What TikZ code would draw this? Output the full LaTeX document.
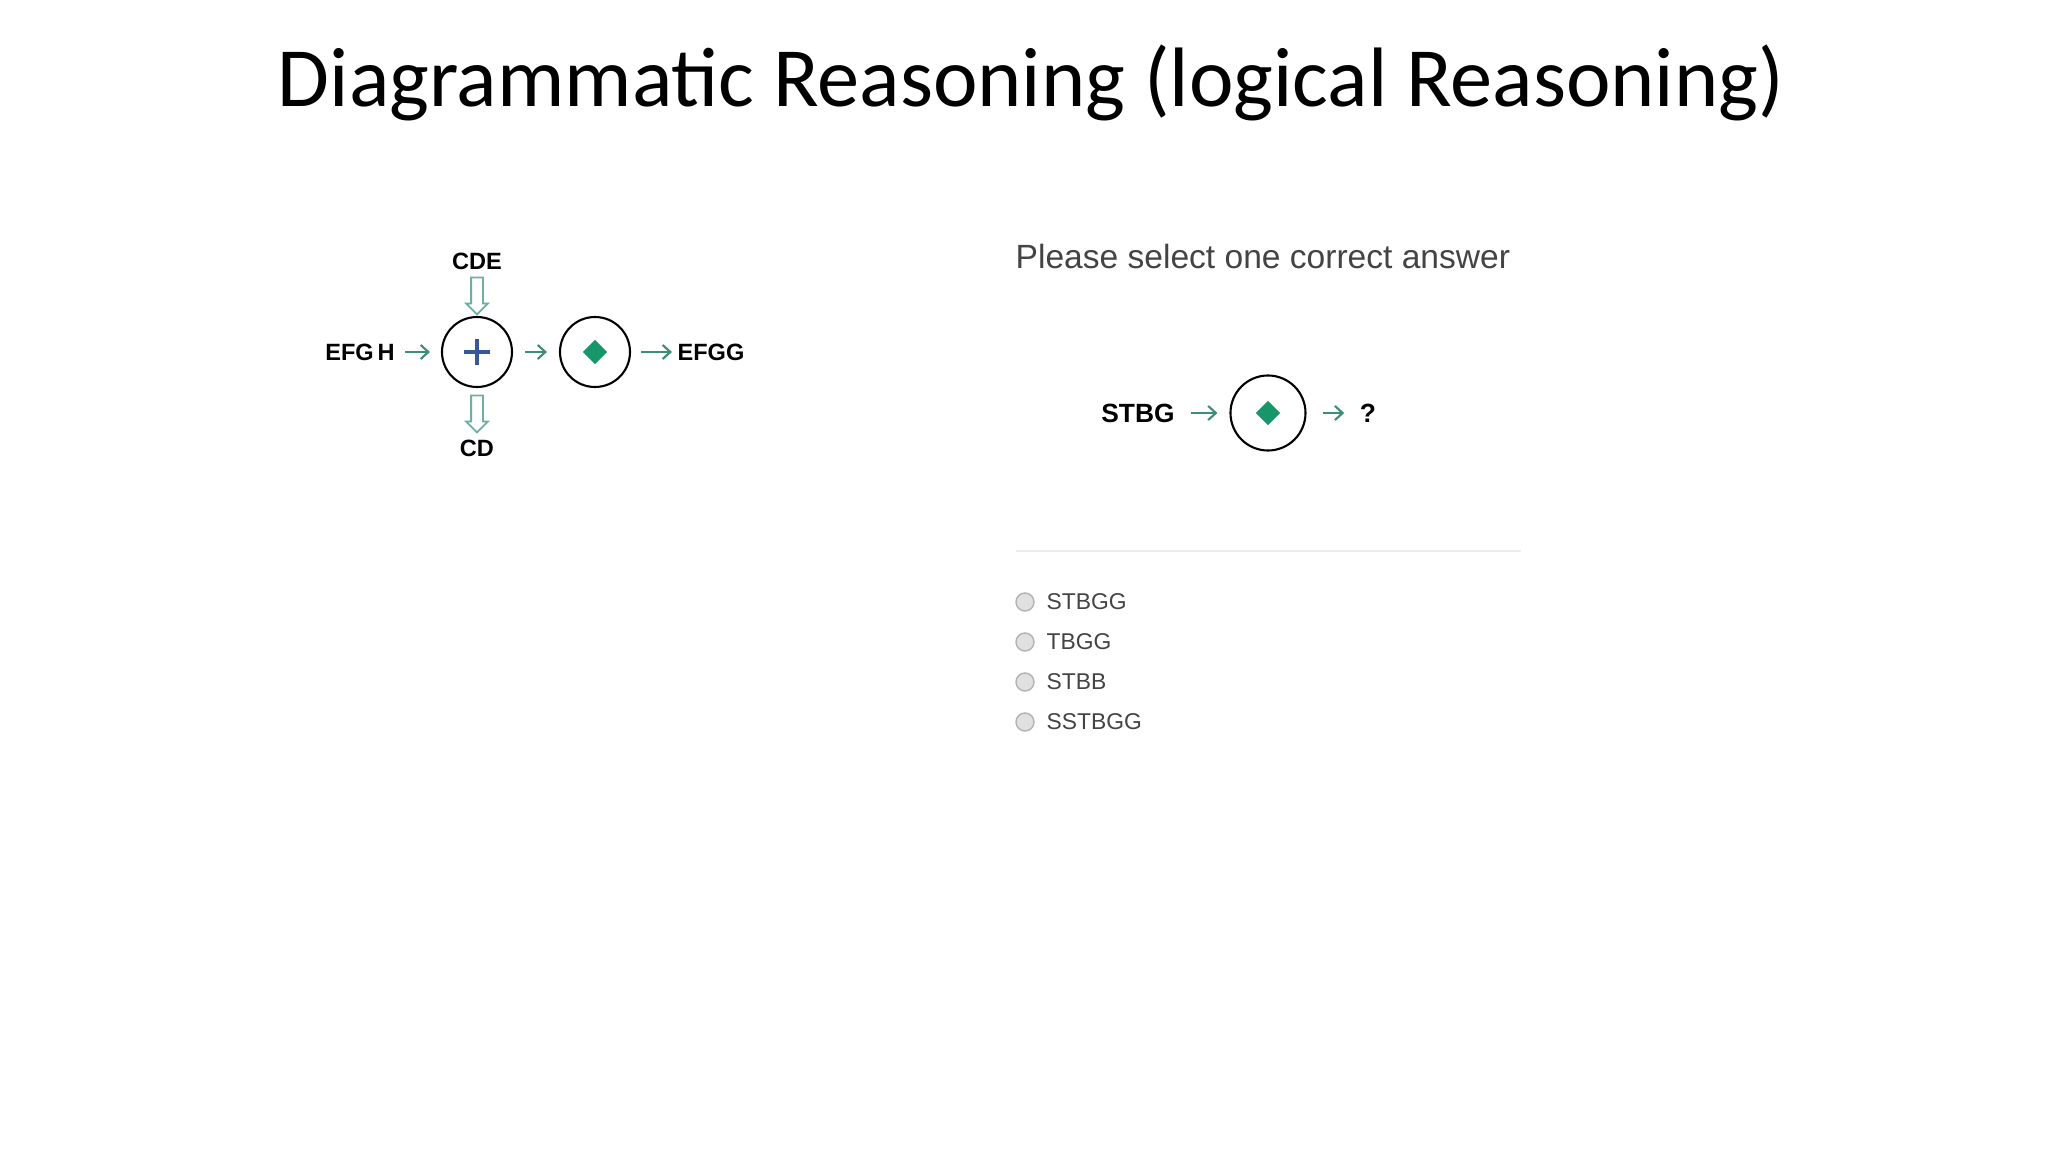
\documentclass[tikz,border=0pt]{standalone}
\usepackage{fontspec}
\setmainfont{Liberation Sans}
\newfontfamily\titlefont{Carlito}
\usetikzlibrary{positioning,shapes.geometric,shapes.arrows,arrows.meta}

\definecolor{flowteal}{HTML}{3E8C7A}
\definecolor{hollowteal}{HTML}{6FAFA0}
\definecolor{gemgreen}{HTML}{17966A}
\definecolor{plusblue}{HTML}{34589A}
\definecolor{promptgray}{HTML}{444444}
\definecolor{rulegray}{HTML}{EDEDED}

\begin{document}
\begin{tikzpicture}[node distance=1cm, on grid,
	op/.style	= {circle, draw, line width=0.6pt, minimum size=0.7cm, inner sep=0pt},
	lbl/.style	= {font=\fontsize{6.7}{8}\selectfont\bfseries, inner sep=0pt},
	opt/.style	= {font=\fontsize{6.5}{8}\selectfont, text=promptgray, inner sep=0pt, anchor=west},
	gem/.style	= {diamond, fill=gemgreen, inner sep=0pt, minimum size=0.25cm},
	flow/.style	= {-{Straight Barb[length=2.2pt, width=4pt]}, flowteal, line width=0.6pt},
	hollow/.style	= {single arrow, draw=hollowteal, line width=0.5pt, shape border rotate=270,
			   inner sep=0.05cm, single arrow head extend=0.05cm, minimum height=0.37cm},
	radio/.style	= {circle, draw=black!30, fill=black!12, line width=0.4pt, minimum size=0.18cm, inner sep=0pt},
]
	% page
	\useasboundingbox[fill=white] (0,0) rectangle (20.48,-11.52);
	\node	(title)	[font=\titlefont\fontsize{24}{28}\selectfont, anchor=base] at (10.31,-1.07)
		{Diagrammatic Reasoning (logical Reasoning)};

	% example rule
	\node	(plus)	[op] at (4.77,-3.52)			{};
	\node	(in)	[lbl, left=1.17cm of plus]		{EFG\,H};
	\node	(gemA)	[op, right=1.18cm of plus]		{};
	\node	(out)	[lbl, right=1.16cm of gemA]		{EFGG};
	\node	(add)	[lbl, above=0.91cm of plus]		{CDE};
	\node	(drop)	[lbl, below=0.96cm of plus]		{CD};
	\node	(addarr)	[hollow, above=0.59cm of plus]	{};
	\node	(droparr)	[hollow, below=0.59cm of plus]	{};
	\node	(gemAmark)	[gem] at (gemA)			{};
	\draw	[plusblue, line width=1pt] ([xshift=-0.13cm]plus.center) -- ([xshift=0.13cm]plus.center)
		([yshift=-0.13cm]plus.center) -- ([yshift=0.13cm]plus.center);

	\path [flow]
	(in)	edge	[shorten <=0.10cm, shorten >=0.11cm]	(plus)
	(plus)	edge	[shorten <=0.12cm, shorten >=0.12cm]	(gemA)
	(gemA)	edge	[shorten <=0.10cm, shorten >=0.05cm]	(out)
	;

	% question
	\node	(prompt)	[font=\fontsize{9.55}{11}\selectfont, text=promptgray, inner sep=0pt, anchor=west]
		at (10.15,-2.57) {Please select one correct answer};
	\node	(gemB)	[op, minimum size=0.75cm] at (12.68,-4.13)	{};
	\node	(gemBmark)	[gem] at (gemB)				{};
	\node	(given)	[lbl, font=\fontsize{7.5}{9}\selectfont\bfseries, left=1.30cm of gemB]	{STBG};
	\node	(ask)	[lbl, font=\fontsize{7.5}{9}\selectfont\bfseries, right=1.00cm of gemB]	{?};

	\path [flow]
	(given)	edge	[shorten <=0.16cm, shorten >=0.12cm]	(gemB)
	(gemB)	edge	[shorten <=0.16cm, shorten >=0.15cm]	(ask)
	;

	\coordinate	(ruleL)	at (10.16,-5.51);
	\coordinate	(ruleR)	at (15.21,-5.51);
	\draw	[rulegray, line width=0.5pt] (ruleL) -- (ruleR);

	% answers
	\foreach \choice [count=\i] in {STBGG,TBGG,STBB,SSTBGG} {
		\node	(radio\i)	[radio] at (10.25,{-6.02-0.4*(\i-1)})	{};
		\node	(choice\i)	[opt] at (10.46,{-6.02-0.4*(\i-1)})	{\choice};
	}
\end{tikzpicture}
\end{document}
